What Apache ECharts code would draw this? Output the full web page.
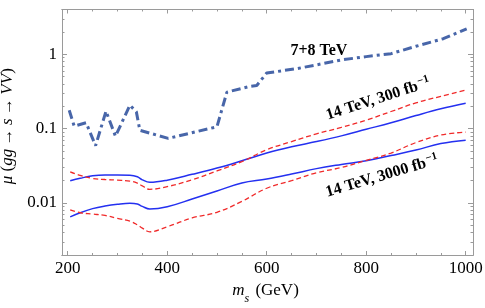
<!DOCTYPE html>
<html><head><meta charset="utf-8">
<script src="https://cdn.jsdelivr.net/npm/echarts@6/dist/echarts.min.js"></script>
<style>html,body{margin:0;padding:0;background:#fff}#c{width:485px;height:308px}</style>
</head><body><div id="c"></div>
<script>
// ---- data ----
const masses = [205,225,250,275,300,325,340,350,365,400,450,500,550,600,650,700,750,800,850,900,950,1000];
const blue300 = [0.0199,0.0215,0.0232,0.0238,0.0238,0.0236,0.0225,0.0205,0.0190,0.0203,0.0243,0.0295,0.0370,0.0470,0.0570,0.0670,0.0800,0.0980,0.1200,0.1500,0.1850,0.2200];
const red300  = [0.0263,0.0235,0.0214,0.0207,0.0203,0.0197,0.0185,0.0170,0.0153,0.0166,0.0205,0.0270,0.0360,0.0520,0.0670,0.0850,0.1040,0.1300,0.1700,0.2220,0.2720,0.3300];
const blue3000 = [0.0065,0.0074,0.0084,0.0091,0.0096,0.0099,0.0097,0.0090,0.0083,0.0089,0.0113,0.0145,0.0186,0.0210,0.0245,0.0290,0.0330,0.0370,0.0435,0.0515,0.0630,0.0700];
const red3000  = [0.0081,0.0074,0.0071,0.0068,0.0062,0.0057,0.0051,0.0046,0.0041,0.0048,0.0063,0.0075,0.0105,0.0158,0.0200,0.0255,0.0300,0.0374,0.0470,0.0650,0.0820,0.0900];
const mass78 = [203,213,237,256,277,296,325,338,345,402,500,520,566,580,600,660,700,750,800,850,900,955,1002];
const mu78   = [0.177,0.108,0.120,0.059,0.172,0.079,0.207,0.168,0.095,0.074,0.106,0.310,0.370,0.380,0.560,0.640,0.720,0.840,0.930,1.020,1.280,1.620,2.200];
const xMajorTicks = [200,400,600,800,1000];
const xMinorTicks = [250,300,350,450,500,550,650,700,750,850,900,950];
const xLabels = ['200','400','600','800','1000'];
const yMajorTicks = [0.01,0.1,1];
const yMinorTicks = [0.002,0.003,0.004,0.005,0.006,0.007,0.008,0.009,0.02,0.03,0.04,0.05,0.06,0.07,0.08,0.09,0.2,0.3,0.4,0.5,0.6,0.7,0.8,0.9,2,3,4];
const yLabels = ['0.01','0.1','1'];

const FRAME = '#9a9a9a';
const SERIF = 'Liberation Serif';
const XMIN = 188.5, XMAX = 1014.7, YMIN = 0.002, YMAX = 4;

function findLabel(ticks, labels, v) {
  const i = ticks.findIndex(t => Math.abs(t - v) / Math.abs(t) < 1e-6);
  return i >= 0 ? labels[i] : '';
}
function xAx(pos, ticks, len, labels) {
  return {
    type: 'value', position: pos, min: XMIN, max: XMAX,
    axisLine: {show: true, lineStyle: {color: FRAME, width: 1}},
    axisTick: {show: true, inside: true, length: len, customValues: ticks, lineStyle: {color: FRAME, width: 1}},
    axisLabel: {show: labels, customValues: ticks, margin: 5, color: '#000', fontFamily: SERIF, fontSize: 17,
      formatter: v => findLabel(xMajorTicks, xLabels, v)},
    splitLine: {show: false}
  };
}
function yAx(pos, ticks, len, labels) {
  return {
    type: 'log', logBase: 10, position: pos, min: YMIN, max: YMAX,
    axisLine: {show: true, lineStyle: {color: FRAME, width: 1}},
    axisTick: {show: true, inside: true, length: len, customValues: ticks, lineStyle: {color: FRAME, width: 1}},
    axisLabel: {show: labels, customValues: ticks, margin: 5, color: '#000', fontFamily: SERIF, fontSize: 17,
      formatter: v => findLabel(yMajorTicks, yLabels, v)},
    splitLine: {show: false}
  };
}

const xAxes = [xAx('bottom', xMajorTicks, 4, true), xAx('bottom', xMinorTicks, 2, false),
               xAx('top', xMajorTicks, 4, false), xAx('top', xMinorTicks, 2, false)];
xAxes[0].name = '{i|m}{sub|s} (GeV)';
xAxes[0].nameLocation = 'middle';
xAxes[0].nameGap = 27;
xAxes[0].nameTextStyle = {fontFamily: SERIF, fontSize: 17, color: '#000', padding: [0, 4, 0, 0],
  rich: {i: {fontFamily: SERIF, fontSize: 17, fontStyle: 'italic', color: '#000'},
         sub: {fontFamily: SERIF, fontSize: 12, fontStyle: 'italic', color: '#000', verticalAlign: 'bottom', padding: [0, 2, -6, 0]}}};

const yAxes = [yAx('left', yMajorTicks, 5, true), yAx('left', yMinorTicks, 2.5, false),
               yAx('right', yMajorTicks, 5, false), yAx('right', yMinorTicks, 2.5, false)];
yAxes[0].name = '{i|μ} ({i|gg}\u2009→\u2009{i|s}\u2009→\u2009{i|VV})';
yAxes[0].nameLocation = 'middle';
yAxes[0].nameGap = 44;
yAxes[0].nameTextStyle = {fontFamily: SERIF, fontSize: 17, color: '#000', padding: [0, 0, 0, 12],
  rich: {i: {fontFamily: SERIF, fontSize: 17, fontStyle: 'italic', color: '#000'}}};

function pairs(xs, ys) { return xs.map((x, i) => [x, ys[i]]); }

const chart = echarts.init(document.getElementById('c'), null, {renderer: 'canvas'});
chart.setOption({
  animation: false,
  backgroundColor: '#fff',
  grid: {left: 62, right: 12, top: 9.5, bottom: 53, outerBoundsMode: 'none'},
  xAxis: xAxes,
  yAxis: yAxes,
  series: [
    {type: 'line', name: '7+8 TeV', data: pairs(mass78, mu78), showSymbol: false, smooth: false,
     lineStyle: {color: '#4866a9', width: 3, type: [9, 4, 3, 4]}},
    {type: 'line', name: 'b300', data: pairs(masses, blue300), showSymbol: false, smooth: 0.4,
     lineStyle: {color: '#2430f0', width: 1.5}},
    {type: 'line', name: 'r300', data: pairs(masses, red300), showSymbol: false, smooth: 0.4,
     lineStyle: {color: '#f02a2a', width: 1.3, type: [5, 3]}},
    {type: 'line', name: 'b3000', data: pairs(masses, blue3000), showSymbol: false, smooth: 0.4,
     lineStyle: {color: '#2430f0', width: 1.5}},
    {type: 'line', name: 'r3000', data: pairs(masses, red3000), showSymbol: false, smooth: 0.4,
     lineStyle: {color: '#f02a2a', width: 1.3, type: [5, 3]}}
  ]
});

// annotations anchored to data coordinates
const notes = [
  {m: 705, v: 1.1, rot: 0, text: '7+8 TeV'},
  {m: 824, v: 0.25, rot: 18, text: '14 TeV, 300 fb{sup|−1}'},
  {m: 832, v: 0.023, rot: 16.5, text: '14 TeV, 3000 fb{sup|−1}'}
];
const g = notes.map(n => {
  const p = chart.convertToPixel({xAxisIndex: 0, yAxisIndex: 0}, [n.m, n.v]);
  return {type: 'text', x: p[0], y: p[1], rotation: n.rot * Math.PI / 180,
    style: {text: n.text, fontFamily: SERIF, fontSize: 16, fontWeight: 'bold', fill: '#000',
      align: 'center', verticalAlign: 'middle',
      rich: {sup: {fontFamily: SERIF, fontSize: 11, fontWeight: 'bold', fill: '#000', verticalAlign: 'top', padding: [0, 0, 8, 1]}}}};
});
chart.setOption({graphic: g});
</script></body></html>
